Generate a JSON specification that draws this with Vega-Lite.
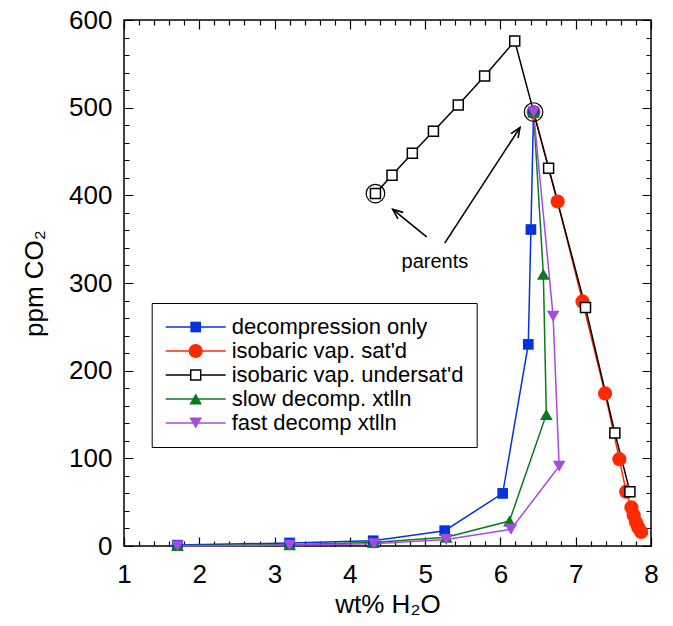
{
  "$schema": "https://vega.github.io/schema/vega-lite/v6.json",
  "width": 527,
  "height": 526,
  "autosize": {"type": "none"},
  "padding": {"left": 124, "top": 20, "right": 22, "bottom": 80},
  "config": {
    "font": "Liberation Sans",
    "view": {"stroke": "black", "strokeWidth": 1.5},
    "axis": {"domain": false, "ticks": false, "grid": true, "gridColor": "black", "gridOpacity": 1, "gridWidth": 1.2, "labelColor": "black", "titleColor": "black", "titleFontWeight": "normal"}
  },
  "datasets": {
    "curves": [
      {"series": "isobaric vap. sat'd", "step": 1, "wt": 6.44, "ppm": 495},
      {"series": "isobaric vap. sat'd", "step": 2, "wt": 6.76, "ppm": 393},
      {"series": "isobaric vap. sat'd", "step": 3, "wt": 7.09, "ppm": 279},
      {"series": "isobaric vap. sat'd", "step": 4, "wt": 7.39, "ppm": 174},
      {"series": "isobaric vap. sat'd", "step": 5, "wt": 7.58, "ppm": 99},
      {"series": "isobaric vap. sat'd", "step": 6, "wt": 7.67, "ppm": 62},
      {"series": "isobaric vap. sat'd", "step": 7, "wt": 7.74, "ppm": 44},
      {"series": "isobaric vap. sat'd", "step": 8, "wt": 7.77, "ppm": 35},
      {"series": "isobaric vap. sat'd", "step": 9, "wt": 7.8, "ppm": 27},
      {"series": "isobaric vap. sat'd", "step": 10, "wt": 7.83, "ppm": 21},
      {"series": "isobaric vap. sat'd", "step": 11, "wt": 7.87, "ppm": 16},
      {"series": "isobaric vap. undersat'd", "step": 1, "wt": 4.34, "ppm": 402},
      {"series": "isobaric vap. undersat'd", "step": 2, "wt": 4.56, "ppm": 423},
      {"series": "isobaric vap. undersat'd", "step": 3, "wt": 4.83, "ppm": 448},
      {"series": "isobaric vap. undersat'd", "step": 4, "wt": 5.11, "ppm": 473},
      {"series": "isobaric vap. undersat'd", "step": 5, "wt": 5.44, "ppm": 503},
      {"series": "isobaric vap. undersat'd", "step": 6, "wt": 5.79, "ppm": 536},
      {"series": "isobaric vap. undersat'd", "step": 7, "wt": 6.19, "ppm": 576},
      {"series": "isobaric vap. undersat'd", "step": 8, "wt": 6.64, "ppm": 431},
      {"series": "isobaric vap. undersat'd", "step": 9, "wt": 7.13, "ppm": 272},
      {"series": "isobaric vap. undersat'd", "step": 10, "wt": 7.52, "ppm": 129},
      {"series": "isobaric vap. undersat'd", "step": 11, "wt": 7.72, "ppm": 62},
      {"series": "decompression only", "step": 1, "wt": 1.71, "ppm": 1},
      {"series": "decompression only", "step": 2, "wt": 3.2, "ppm": 3.5},
      {"series": "decompression only", "step": 3, "wt": 4.31, "ppm": 6},
      {"series": "decompression only", "step": 4, "wt": 5.26, "ppm": 17.5},
      {"series": "decompression only", "step": 5, "wt": 6.03, "ppm": 60},
      {"series": "decompression only", "step": 6, "wt": 6.37, "ppm": 230},
      {"series": "decompression only", "step": 7, "wt": 6.405, "ppm": 361},
      {"series": "decompression only", "step": 8, "wt": 6.44, "ppm": 495},
      {"series": "slow decomp. xtlln", "step": 1, "wt": 1.71, "ppm": 0.5},
      {"series": "slow decomp. xtlln", "step": 2, "wt": 3.2, "ppm": 1.5},
      {"series": "slow decomp. xtlln", "step": 3, "wt": 4.31, "ppm": 4},
      {"series": "slow decomp. xtlln", "step": 4, "wt": 5.28, "ppm": 10},
      {"series": "slow decomp. xtlln", "step": 5, "wt": 6.12, "ppm": 28.5},
      {"series": "slow decomp. xtlln", "step": 6, "wt": 6.61, "ppm": 150},
      {"series": "slow decomp. xtlln", "step": 7, "wt": 6.57, "ppm": 310},
      {"series": "slow decomp. xtlln", "step": 8, "wt": 6.44, "ppm": 495},
      {"series": "fast decomp xtlln", "step": 1, "wt": 1.71, "ppm": 0},
      {"series": "fast decomp xtlln", "step": 2, "wt": 3.2, "ppm": 1},
      {"series": "fast decomp xtlln", "step": 3, "wt": 4.32, "ppm": 2.5},
      {"series": "fast decomp xtlln", "step": 4, "wt": 5.28, "ppm": 7.5},
      {"series": "fast decomp xtlln", "step": 5, "wt": 6.14, "ppm": 19},
      {"series": "fast decomp xtlln", "step": 6, "wt": 6.78, "ppm": 91},
      {"series": "fast decomp xtlln", "step": 7, "wt": 6.7, "ppm": 262},
      {"series": "fast decomp xtlln", "step": 8, "wt": 6.44, "ppm": 495}
    ],
    "parents": [
      {"wt": 4.34, "ppm": 402},
      {"wt": 6.44, "ppm": 495}
    ],
    "arrows": [
      {"wt": 5.02, "ppm": 352.7, "wt2": 4.57, "ppm2": 384, "dir": 309},
      {"wt": 5.26, "ppm": 345.5, "wt2": 6.26, "ppm2": 477.4, "dir": 33}
    ],
    "notes": [
      {"wt": 5.13, "ppm": 324, "label": "parents"}
    ]
  },
  "layer": [
    {
      "data": {"name": "curves"},
      "mark": {"type": "line", "strokeWidth": 1.5},
      "encoding": {
        "x": {
          "field": "wt", "type": "quantitative",
          "scale": {"domain": [1, 8], "nice": false, "zero": false},
          "axis": {
            "orient": "bottom",
            "values": [1, 1.2, 1.4, 1.6, 1.8, 2, 2.2, 2.4, 2.6, 2.8, 3, 3.2, 3.4, 3.6, 3.8, 4, 4.2, 4.4, 4.6, 4.8, 5, 5.2, 5.4, 5.6, 5.8, 6, 6.2, 6.4, 6.6, 6.8, 7, 7.2, 7.4, 7.6, 7.8, 8],
            "tickCount": 100,
            "labelExpr": "abs(datum.value - round(datum.value)) < 0.001 ? toString(round(datum.value)) : ''",
            "labelOverlap": false, "labelFlush": false,
            "gridDash": {"condition": {"test": "abs(datum.value - round(datum.value)) < 0.001", "value": [9, 508, 9]}, "value": [5, 516, 5]},
            "labelPadding": 15, "labelFontSize": 26,
            "title": "wt% H₂O", "titleFontSize": 26, "titlePadding": 4
          }
        },
        "y": {
          "field": "ppm", "type": "quantitative",
          "scale": {"domain": [0, 600], "nice": false, "zero": false},
          "axis": {
            "orient": "left",
            "values": [0, 20, 40, 60, 80, 100, 120, 140, 160, 180, 200, 220, 240, 260, 280, 300, 320, 340, 360, 380, 400, 420, 440, 460, 480, 500, 520, 540, 560, 580, 600],
            "tickCount": 100,
            "format": "d",
            "labelExpr": "datum.value % 100 === 0 ? datum.label : ''",
            "labelOverlap": false, "labelFlush": false,
            "gridDash": {"condition": {"test": "datum.value % 100 === 0", "value": [9, 509, 9]}, "value": [5, 517, 5]},
            "labelPadding": 12, "labelFontSize": 26,
            "title": "ppm CO₂", "titleFontSize": 26, "titlePadding": 21
          }
        },
        "order": {"field": "step"},
        "stroke": {
          "field": "series", "type": "nominal",
          "sort": ["decompression only", "isobaric vap. sat'd", "isobaric vap. undersat'd", "slow decomp. xtlln", "fast decomp xtlln"],
          "scale": {"range": ["#0433DE", "#FF2A00", "#000000", "#0A7A1E", "#A64BE0"]},
          "legend": {
            "orient": "none", "legendX": 27.7, "legendY": 283, "title": null,
            "symbolType": "M-6,0L6,0", "symbolSize": 100, "symbolStrokeWidth": 1.5, "symbolOffset": 20,
            "labelFontSize": 22, "labelOffset": 25, "labelLimit": 400, "rowPadding": 2, "padding": 13,
            "strokeColor": "black", "fillColor": "white"
          }
        }
      }
    },
    {
      "data": {"name": "curves"},
      "mark": {"type": "point", "filled": true, "opacity": 1, "stroke": "black"},
      "encoding": {
        "x": {"field": "wt", "type": "quantitative"},
        "y": {"field": "ppm", "type": "quantitative"},
        "fill": {
          "field": "series", "type": "nominal",
          "scale": {"domain": ["decompression only", "isobaric vap. sat'd", "isobaric vap. undersat'd", "slow decomp. xtlln", "fast decomp xtlln"], "range": ["#0433DE", "#FF2A00", "#FFFFFF", "#0A7A1E", "#A64BE0"]},
          "legend": {
            "orient": "none", "legendX": 27.7, "legendY": 283, "title": null,
            "symbolOffset": 20, "symbolStrokeColor": "black", "symbolOpacity": 1,
            "labelFontSize": 22, "labelOffset": 25, "labelLimit": 400, "labelColor": "transparent", "rowPadding": 2, "padding": 13
          }
        },
        "shape": {
          "field": "series", "type": "nominal",
          "scale": {"domain": ["decompression only", "isobaric vap. sat'd", "isobaric vap. undersat'd", "slow decomp. xtlln", "fast decomp xtlln"], "range": ["square", "circle", "square", "triangle-up", "triangle-down"]}
        },
        "size": {
          "field": "series", "type": "nominal",
          "scale": {"type": "ordinal", "domain": ["decompression only", "isobaric vap. sat'd", "isobaric vap. undersat'd", "slow decomp. xtlln", "fast decomp xtlln"], "range": [114, 201, 100, 161, 161]}
        },
        "strokeWidth": {
          "field": "series", "type": "nominal",
          "scale": {"type": "ordinal", "domain": ["decompression only", "isobaric vap. sat'd", "isobaric vap. undersat'd", "slow decomp. xtlln", "fast decomp xtlln"], "range": [0, 0, 1.5, 0, 0]}
        }
      }
    },
    {
      "data": {"name": "parents"},
      "mark": {"type": "point", "shape": "circle", "size": 346, "filled": false, "stroke": "black", "strokeWidth": 1.2, "opacity": 1},
      "encoding": {
        "x": {"field": "wt", "type": "quantitative"},
        "y": {"field": "ppm", "type": "quantitative"}
      }
    },
    {
      "data": {"name": "arrows"},
      "mark": {"type": "rule", "stroke": "black", "strokeWidth": 1.6},
      "encoding": {
        "x": {"field": "wt", "type": "quantitative"},
        "y": {"field": "ppm", "type": "quantitative"},
        "x2": {"field": "wt2"},
        "y2": {"field": "ppm2"}
      }
    },
    {
      "data": {"name": "arrows"},
      "mark": {"type": "point", "shape": "M-0.42,1L0,0L0.42,1", "size": 400, "filled": false, "stroke": "black", "strokeWidth": 1.6, "opacity": 1},
      "encoding": {
        "x": {"field": "wt2", "type": "quantitative"},
        "y": {"field": "ppm2", "type": "quantitative"},
        "angle": {"field": "dir", "type": "quantitative", "scale": null}
      }
    },
    {
      "data": {"name": "notes"},
      "mark": {"type": "text", "fontSize": 20, "color": "black"},
      "encoding": {
        "x": {"field": "wt", "type": "quantitative"},
        "y": {"field": "ppm", "type": "quantitative"},
        "text": {"field": "label"}
      }
    }
  ]
}
